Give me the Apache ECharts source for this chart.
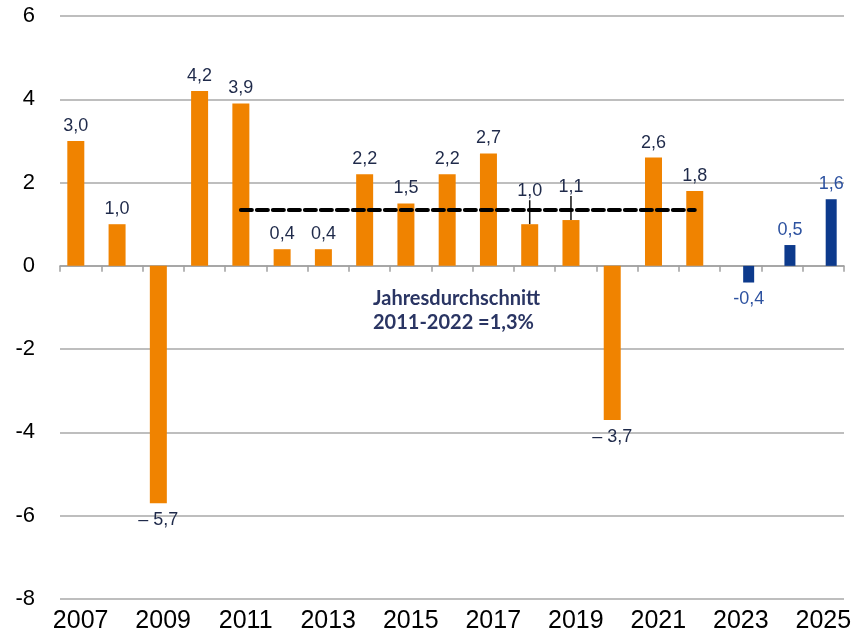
<!DOCTYPE html>
<html>
<head>
<meta charset="utf-8">
<script src="https://cdn.jsdelivr.net/npm/echarts@6/dist/echarts.min.js"></script>
<style>
  html, body { margin: 0; padding: 0; background: #fff; }
  #chart { width: 859px; height: 644px; }
</style>
</head>
<body>
<div id="chart"></div>
<script>
// Jahreswerte (Veränderung in %)
const years = ['2007', '2008', '2009', '2010', '2011', '2012', '2013', '2014', '2015', '2016',
  '2017', '2018', '2019', '2020', '2021', '2022', '2023', '2024', '2025'];
const actualValues = [3.0, 1.0, -5.7, 4.2, 3.9, 0.4, 0.4, 2.2, 1.5, 2.2, 2.7, 1.0, 1.1, -3.7, 2.6, 1.8, null, null, null];
const forecastValues = [null, null, null, null, null, null, null, null, null, null, null, null, null, null, null, null, -0.4, 0.5, 1.6];
// Durchschnitt 2011-2022
const avgValue = 1.34;
const avgRange = ['2011', '2022'];
const avgText = ['Jahresdurchschnitt', '2011-2022 =1,3%'];
// Beschriftungen mit Hinweislinie
const movedLabels = ['2018', '2019'];

const yMin = -8, yMax = 6, yStep = 2;

const chart = echarts.init(document.getElementById('chart'));

const fmt = (v, dash) => {
  const s = Math.abs(v).toFixed(1).replace('.', ',');
  if (v < 0) return dash ? '\u2013 ' + s : '-' + s;
  return s;
};

const actualData = actualValues.map((v, i) => {
  if (v == null) return null;
  const item = { value: v };
  if (v < 0) item.label = { position: 'bottom', distance: 8 };
  if (movedLabels.includes(years[i])) item.labelLine = { show: true, length2: 0 };
  return item;
});
const forecastData = forecastValues.map(v => {
  if (v == null) return null;
  const item = { value: v };
  if (v < 0) item.label = { position: 'bottom', distance: 8 };
  return item;
});

const option = {
  animation: false,
  grid: { left: 60, right: 15, top: 16, bottom: 45 },
  xAxis: [
    {
      type: 'category',
      data: years,
      axisLine: { show: false, onZero: false },
      axisTick: { show: false },
      axisLabel: {
        interval: 1,
        color: '#000',
        fontSize: 25,
        fontFamily: 'Liberation Sans, Arial, sans-serif',
        margin: 10
      }
    },
    {
      type: 'category',
      data: years,
      position: 'bottom',
      axisLine: { show: true, onZero: true, lineStyle: { color: '#a0a0a0', width: 1.5 } },
      axisTick: { show: true, length: 6, lineStyle: { color: '#a0a0a0', width: 1.5 } },
      axisLabel: { show: false }
    }
  ],
  yAxis: {
    type: 'value',
    min: yMin,
    max: yMax,
    interval: yStep,
    axisLine: { show: false },
    axisTick: { show: false },
    splitLine: { lineStyle: { color: '#a8a8a8', width: 1.5 } },
    axisLabel: {
      color: '#000',
      fontSize: 22,
      fontFamily: 'Liberation Sans, Arial, sans-serif',
      margin: 25
    }
  },
  series: [
    {
      type: 'bar',
      data: actualData,
      barWidth: 17,
      barGap: '-8%',
      itemStyle: { color: '#f08300' },
      label: {
        show: true,
        position: 'top',
        distance: 6,
        color: '#1f2a4a',
        fontSize: 18,
        fontFamily: 'Liberation Sans, Arial, sans-serif',
        formatter: p => fmt(p.value, true)
      },
      labelLayout: p => movedLabels.includes(years[p.dataIndex]) ? { dy: -18 } : {},
      labelLine: { show: false, length2: 0, lineStyle: { color: '#111', width: 1.5 } },
      markLine: {
        silent: true,
        symbol: 'none',
        label: { show: false },
        lineStyle: { color: '#000', width: 4, type: [11, 5], cap: 'round' },
        data: [[{ coord: [avgRange[0], avgValue] }, { coord: [avgRange[1], avgValue] }]]
      }
    },
    {
      type: 'bar',
      data: forecastData,
      barWidth: 11,
      itemStyle: { color: '#0d3a8c' },
      label: {
        show: true,
        position: 'top',
        distance: 6,
        color: '#2d52a0',
        fontSize: 18,
        fontFamily: 'Liberation Sans, Arial, sans-serif',
        formatter: p => fmt(p.value, false)
      }
    }
  ],
  graphic: [
    {
      type: 'text',
      left: 373,
      top: 287,
      style: {
        text: avgText.join('\n'),
        fill: '#2a3563',
        font: 'bold 20px Lato, "Open Sans", sans-serif',
        lineHeight: 24
      }
    }
  ]
};

chart.setOption(option);
</script>
</body>
</html>
